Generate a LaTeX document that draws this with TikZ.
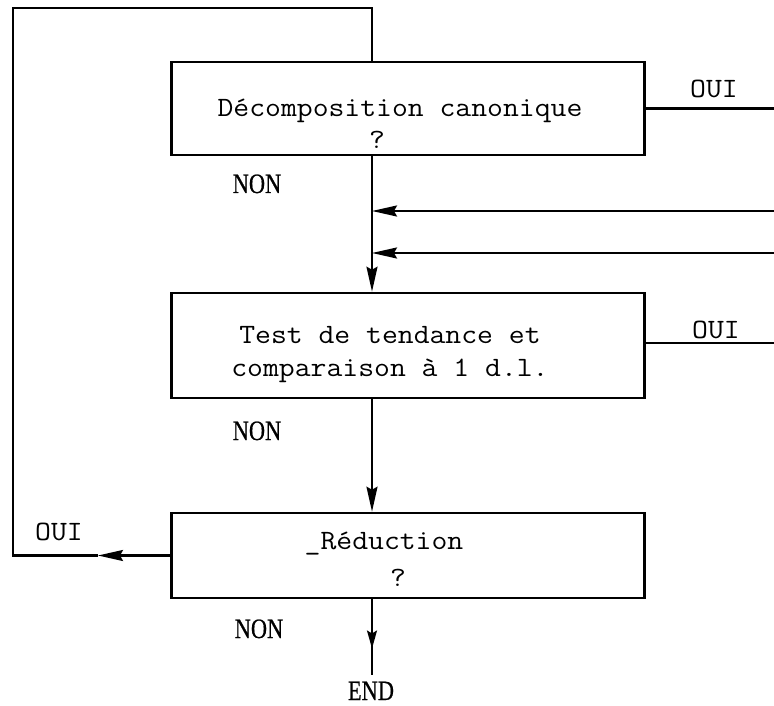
\documentclass[tikz,border=0pt]{standalone}
\usepackage{fontspec}
\usetikzlibrary{arrows.meta,decorations.markings}
\newfontfamily\tw[FakeStretch=1.1]{Latin Modern Mono}
\newfontfamily\nonfont[FakeStretch=0.8,FakeBold=0.6]{Liberation Serif}
\begin{document}
\begin{tikzpicture}[x=1pt,y=-1pt,
  box/.style={draw, line width=2.6pt, minimum width=473pt, inner sep=0pt},
  conn/.style={line width=2.1pt},
  arr/.style={conn, -{Stealth[length=25pt,width=11pt,inset=3pt]}},
  midarr/.style={conn, postaction={decorate},
    decoration={markings, mark=at position 0.65 with {\arrow{Stealth[length=18pt,width=10pt,inset=3pt]}}}},
  tt/.style={inner sep=0pt, anchor=base, font=\tw\fontsize{28}{32}\selectfont},
  lbl/.style={inner sep=0pt, anchor=base, font=\nonfont\fontsize{28}{32}\selectfont}
]
\useasboundingbox (0,0) rectangle (774,706);
\fill[white] (0,0) rectangle (774,706);

% boxes
\node[box, minimum height=93pt]  (b1) at (408,108.5) {};
\node[box, minimum height=105pt] (b2) at (408,345.5) {};
\node[box, minimum height=85pt]  (b3) at (408,555.5) {};

% box texts
\node[tt] (t1) at (400,117) {Décomposition canonique};
\node[tt] (q1) at (377,149) {?};
\node[tt] (t2a) at (390,343) {Test de tendance et};
\node[tt] (t2b) at (390,376) {comparaison à 1 d.l.};
\node[tt] (t3) at (384,549) {\_Réduction};
\node[tt] (q3) at (398,586) {?};

% labels
\node[tt] (oui1) at (714,98) {OUI};
\node[tt] (oui2) at (716,338) {OUI};
\node[tt] (oui3) at (59,540) {OUI};
\node[lbl] (non1) at (257,193) {NON};
\node[lbl] (non2) at (257,440) {NON};
\node[lbl] (non3) at (259,638) {NON};
\node[lbl] (endn) at (371,700) {END};

% coordinates
\coordinate (cx) at (372,0);
\coordinate (o1) at (774,108.5);
\coordinate (o2) at (774,343);
\coordinate (r1) at (774,211);
\coordinate (r2) at (774,253);
\coordinate (la) at (98,555.5);
\coordinate (lb) at (13,555.5);
\coordinate (lc) at (13,8);
\coordinate (ld) at (372,8);
\coordinate (ep) at (372,675);

% main flow
\draw[arr] (b1.south -| cx) -- (b2.north -| cx);
\draw[arr] (b2.south -| cx) -- (b3.north -| cx);
\draw[midarr] (b3.south -| cx) -- (ep);

% inputs from right
\draw[arr] (r1) -- (r1 -| cx);
\draw[arr] (r2) -- (r2 -| cx);

% OUI exits
\draw[conn] (b1.east) -- (o1);
\draw[conn] (b2.east |- o2) -- (o2);

% loop back
\draw[arr] (b3.west) -- (la);
\draw[conn] (la) -- (lb) -- (lc) -- (ld) -- (b1.north -| cx);
\end{tikzpicture}
\end{document}
